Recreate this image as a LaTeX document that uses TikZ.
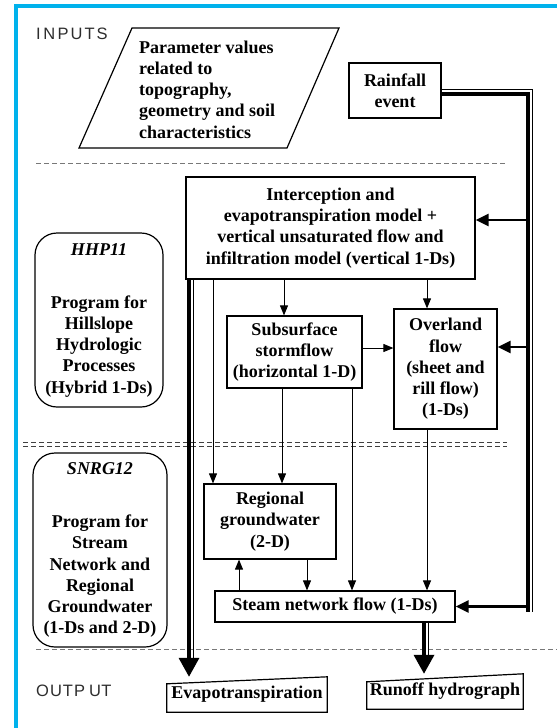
\documentclass[tikz,border=0pt]{standalone}
\usepackage{fontspec}
\setmainfont{Liberation Serif}
\newfontfamily\labelfont{Liberation Sans}
\usetikzlibrary{arrows.meta,calc}
\definecolor{frameblue}{RGB}{0,178,236}
\definecolor{dashgray}{RGB}{120,120,120}
\definecolor{lblgray}{RGB}{45,45,45}
\begin{document}
\begin{tikzpicture}[x=1pt,y=-1pt,
  txt/.style={inner sep=0pt, font=\fontsize{18}{21.2}\selectfont\bfseries},
  box/.style={txt, draw, line width=1.2pt, align=center},
  rbox/.style={box, rounded corners=22pt},
  shapeline/.style={line width=1.2pt, line join=miter},
  arr/.style={line width=1pt, -{Triangle[length=10pt,width=8pt]}},
  arrR/.style={line width=2.4pt, -{Triangle[length=13pt,width=12pt]}},
  thickline/.style={line width=3.5pt},
  thinline/.style={line width=1pt},
  bigarr/.style={line width=3.5pt, -{Triangle[length=19pt,width=20pt]}},
  lbl/.style={inner sep=0pt, font=\labelfont\fontsize{16.5}{19}\selectfont, text=lblgray},
  dashA/.style={dashgray, line width=1pt, dash pattern=on 5pt off 3pt},
  dashB/.style={black!75, line width=0.9pt, dash pattern=on 5pt off 3pt}]
\useasboundingbox (0,0) rectangle (557,728);

% blue frame
\draw[frameblue, line width=4pt] (16,728) -- (16,6) -- (557,6);

% section labels
\node[lbl, anchor=west] (inp) at (36,34) {I\hspace{2.5pt}N\hspace{2.5pt}P\hspace{2pt}U\hspace{2pt}T\hspace{2pt}S};
\node[lbl, anchor=west] (outp) at (36,691) {O\hspace{1pt}U\hspace{1pt}T\hspace{1pt}P\hspace{4pt}U\hspace{0.5pt}T};

% dashed separators
\draw[dashA] (36,163) -- (505,163);
\draw[dashB] (23,442) -- (507,442);
\draw[dashB] (23,446) -- (507,446);
\draw[dashA] (36,649) -- (557,649);

% parallelogram
\draw[shapeline] (132,28) -- (339,28) -- (287,148) -- (79,148) -- cycle;
\node[txt, anchor=west, align=left] (param) at (139,89.5) {Parameter values\\related to\\topography,\\geometry and soil\\characteristics};

% boxes
\node[box, minimum width=92pt, minimum height=55pt] (rain) at (395,90.5) {Rainfall\\event};
\node[box, minimum width=289pt, minimum height=102pt] (int) at (330.5,228) {Interception and\\evapotranspiration model +\\vertical unsaturated flow and\\infiltration model (vertical 1-Ds)};
\node[box, minimum width=135pt, minimum height=72pt] (sub) at (294.5,352) {Subsurface\\stormflow\\(horizontal 1-D)};
\node[box, minimum width=103pt, minimum height=120pt] (over) at (445.5,369) {Overland\\flow\\(sheet and\\rill flow)\\(1-Ds)};
\node[box, minimum width=132pt, minimum height=75pt] (reg) at (270,521.5) {Regional\\groundwater\\(2-D)};
\node[box, minimum width=240pt, minimum height=31pt] (steam) at (335,606.5) {Steam network flow (1-Ds)};

\node[rbox, minimum width=128pt, minimum height=174pt] (hhp) at (99,320) {\textit{HHP11}\\[32pt]Program for\\Hillslope\\Hydrologic\\Processes\\(Hybrid 1-Ds)};
\node[rbox, minimum width=134pt, minimum height=194pt] (snrg) at (100,550) {\textit{SNRG12}\\[32pt]Program for\\Stream\\Network and\\Regional\\Groundwater\\(1-Ds and 2-D)};

% output boxes
\node[txt, minimum width=160pt, minimum height=35pt] (evap) at (247,694.5) {Evapotranspiration};
\draw[shapeline] (evap.south west) -- (evap.south east) -- (evap.north east) -- ([yshift=-7pt]evap.north west) -- cycle;
\node[txt, minimum width=156pt, minimum height=35pt] (runoff) at (445,691.5) {Runoff hydrograph};
\draw[shapeline] (runoff.south west) -- (runoff.south east) -- (runoff.north east) -- ([yshift=-8pt]runoff.north west) -- cycle;

% rainfall double line
\coordinate (vthin) at (532.5,0);
\coordinate (vthick) at (528,0);
\coordinate (vend) at (0,612);
\draw[thinline] ([yshift=1.5pt]rain.east) -- ([yshift=1.5pt]rain.east -| vthin) -- (vthin |- vend);
\draw[thickline] ([yshift=-3.5pt]rain.east) -- ([yshift=-3.5pt]rain.east -| vthick) -- (vthick |- vend);

% arrows from right line
\draw[arrR] ([yshift=8pt]int.east -| vthick) -- ([yshift=8pt]int.east);
\draw[arrR] ([yshift=22pt]over.east -| vthick) -- ([yshift=22pt]over.east);
\draw[arrR] (steam.east -| vthick) -- (steam.east);

% internal arrows
\draw[arr] ([xshift=-10.5pt]sub.north |- int.south) -- ([xshift=-10.5pt]sub.north);
\draw[arr] ([xshift=-18.5pt]over.north |- int.south) -- ([xshift=-18.5pt]over.north);
\draw[arr] ([yshift=4pt]sub.east) -- ([yshift=4pt]sub.east -| over.west);
\draw[arr] ([xshift=-57pt]reg.north |- int.south) -- ([xshift=-57pt]reg.north);
\draw[arr] ([xshift=12pt]reg.north |- sub.south) -- ([xshift=12pt]reg.north);
\draw[arr] ([xshift=17pt]steam.north |- sub.south) -- ([xshift=17pt]steam.north);
\draw[arr] ([xshift=-18.5pt]over.south) -- ([xshift=-18.5pt]over.south |- steam.north);
\draw[arr] ([xshift=-31pt]reg.south |- steam.north) -- ([xshift=-31pt]reg.south);
\draw[arr] ([xshift=37pt]reg.south) -- ([xshift=37pt]reg.south |- steam.north);

% outputs
\draw[thinline] ([xshift=-54pt]evap.north |- int.south) -- ([xshift=-54pt,yshift=18pt]evap.north);
\draw[bigarr] ([xshift=-58pt]evap.north |- int.south) -- ([xshift=-58pt]evap.north);
\draw[thinline] ([xshift=-17pt]runoff.north |- steam.south) -- ([xshift=-17pt,yshift=17pt]runoff.north);
\draw[bigarr] ([xshift=-21pt]runoff.north |- steam.south) -- ([xshift=-21pt]runoff.north);
\end{tikzpicture}
\end{document}
